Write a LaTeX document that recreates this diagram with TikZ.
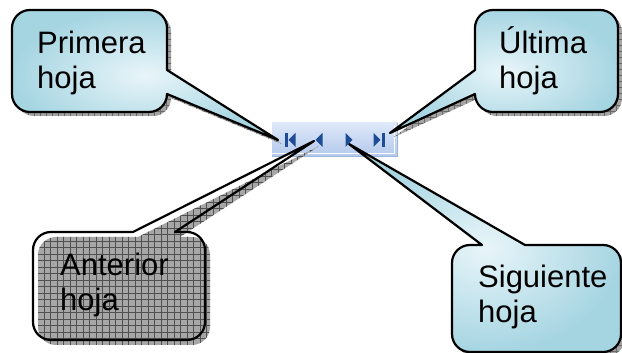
\documentclass[tikz,border=0pt]{standalone}
\usepackage{fontspec}
\setmainfont{Liberation Sans}
\definecolor{calloutlight}{HTML}{E8F5F9}
\definecolor{calloutdark}{HTML}{A6D5E2}
\definecolor{shadowgray}{HTML}{A4A4A4}
\definecolor{gridgray}{HTML}{6A6A6A}
\definecolor{darkshadow}{HTML}{A6A6A6}
\definecolor{darkgrid}{HTML}{505050}
\definecolor{barTop}{HTML}{DDE8F9}
\definecolor{barBot}{HTML}{B3C8EC}
\definecolor{barEdge}{HTML}{9FB6DC}
\definecolor{iconblue}{HTML}{1E4D95}
\tikzset{
  outline/.style={draw=black, line width=2.2pt, line join=round},
  bluefill/.style={inner color=calloutlight, outer color=calloutdark},
  txt/.style={font=\fontsize{31}{35}\selectfont, inner sep=0pt, anchor=base west},
  icon/.style={fill=iconblue, draw=none}
}
\def\pathP{(30,343) -- (149,343) arc[start angle=90,end angle=0,radius=18] -- (167,283) -- (278,213) -- (167,259) arc[start angle=0,end angle=-90,radius=18] -- (30,241) arc[start angle=270,end angle=180,radius=18] -- (12,325) arc[start angle=180,end angle=90,radius=18] -- cycle}
\def\pathU{(493,343) -- (600,343) arc[start angle=90,end angle=0,radius=18] -- (618,259) arc[start angle=0,end angle=-90,radius=18] -- (493,241) arc[start angle=270,end angle=180,radius=18] -- (475,259) -- (390,220) -- (475,283) -- (475,325) arc[start angle=180,end angle=90,radius=18] -- cycle}
\def\pathA{(51,121) -- (133,121) -- (314,212) -- (175,121) -- (187,121) arc[start angle=90,end angle=0,radius=18] -- (205,31) arc[start angle=0,end angle=-90,radius=18] -- (51,13) arc[start angle=270,end angle=180,radius=18] -- (33,103) arc[start angle=180,end angle=90,radius=18] -- cycle}
\def\pathS{(470,108) -- (482,108) -- (349,209) -- (525,108) -- (603,108) arc[start angle=90,end angle=0,radius=18] -- (621,19) arc[start angle=0,end angle=-90,radius=18] -- (470,1) arc[start angle=270,end angle=180,radius=18] -- (452,90) arc[start angle=180,end angle=90,radius=18] -- cycle}
\begin{document}
\begin{tikzpicture}[x=1pt,y=1pt]
\useasboundingbox (0,0) rectangle (622,353);
\fill[white] (0,0) rectangle (622,353);
% toolbar
\shade[top color=barTop, bottom color=barBot] (272,196) rectangle (398,230);
\draw[barEdge, line width=1pt] (397.5,230) -- (397.5,196.5) -- (272,196.5);
\draw[white, line width=1pt] (394,228) -- (394,199) -- (272,199);
% shadows of blue callouts
\begin{scope}[shift={(4,-4)}]
  \clip \pathP;
  \fill[shadowgray] (0,0) rectangle (622,353);
  \draw[gridgray, line width=0.4pt, step=6] (0,0) grid (622,353);
\end{scope}
\begin{scope}[shift={(4,-4)}]
  \clip \pathU;
  \fill[shadowgray] (0,0) rectangle (622,353);
  \draw[gridgray, line width=0.4pt, step=6] (0,0) grid (622,353);
\end{scope}
\begin{scope}[shift={(4,-4)}]
  \clip \pathS;
  \fill[shadowgray] (0,0) rectangle (622,353);
  \draw[gridgray, line width=0.4pt, step=6] (0,0) grid (622,353);
\end{scope}
% blue callouts
\shade[bluefill] \pathP;
\draw[outline] \pathP;
\shade[bluefill] \pathU;
\draw[outline] \pathU;
\shade[bluefill] \pathS;
\draw[outline] \pathS;
% gray callout (Anterior)
\fill[white] \pathA;
\begin{scope}[shift={(5,-5)}]
  \clip \pathA;
  \fill[darkshadow] (0,0) rectangle (622,353);
  \draw[darkgrid, line width=0.35pt, step=6.5] (0,0) grid (622,353);
\end{scope}
\draw[outline] \pathA;
% icons
\fill[icon] (284.5,206) rectangle (287.5,220);
\fill[icon] (288.5,213) -- (295.5,220) -- (295.5,206) -- cycle;
\fill[icon] (315.5,213) -- (322.5,220) -- (322.5,206) -- cycle;
\fill[icon] (352.5,213) -- (345.5,220) -- (345.5,206) -- cycle;
\fill[icon] (380.5,213) -- (373.5,220) -- (373.5,206) -- cycle;
\fill[icon] (381.5,206) rectangle (384.5,220);
% texts
\node[txt] (p1) at (37,299) {Primera};
\node[txt] (p2) at (37,264) {hoja};
\node[txt] (u1) at (499,299) {Última};
\node[txt] (u2) at (499,264) {hoja};
\node[txt] (a1) at (60,77) {Anterior};
\node[txt] (a2) at (60,42) {hoja};
\node[txt] (s1) at (478,65) {Siguiente};
\node[txt] (s2) at (478,30) {hoja};
\end{tikzpicture}
\end{document}
